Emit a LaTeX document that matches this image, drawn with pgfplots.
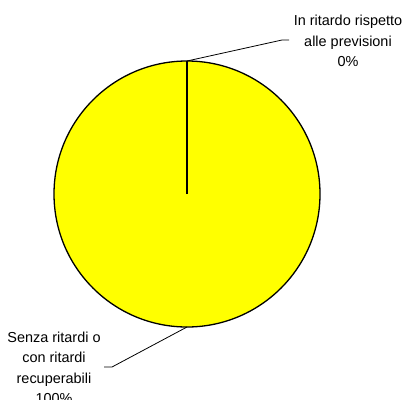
\documentclass[border=0pt]{standalone}
\usepackage{pgfplots}
\pgfplotsset{compat=1.18}
\usepackage{fontspec}
\setmainfont{Liberation Sans}
\definecolor{pieyellow}{RGB}{255,255,0}
\begin{document}
\begin{tikzpicture}
  \begin{axis}[
      scale only axis,
      width=406bp, height=400bp,
      xmin=0, xmax=406, ymin=0, ymax=400,
      y dir=reverse,
      hide axis,
      clip=false,
    ]
    % 100% slice: whole disc
    \draw[fill=pieyellow, line width=1.3bp] (axis cs:187,194) circle [radius=133bp];
    % 0% slice: single edge at 90 degrees
    \addplot[black, line width=2bp, no marks] coordinates {(187,194) (187,61)};
    % leader lines
    \draw[line width=0.8bp] (axis cs:187,61) -- (axis cs:282,40) -- (axis cs:289,40);
    \draw[line width=0.8bp] (axis cs:187,327) -- (axis cs:112,367) -- (axis cs:104,367);
    \node[align=center, font=\fontsize{14.5}{20.5}\selectfont] at (axis cs:348,41)
      {In ritardo rispetto\\alle previsioni\\0\%};
    \node[align=center, font=\fontsize{14.5}{20.5}\selectfont] at (axis cs:54,368)
      {Senza ritardi o\\con ritardi\\recuperabili\\100\%};
  \end{axis}
  \pgfresetboundingbox
  \useasboundingbox (current axis.south west) rectangle (current axis.north east);
\end{tikzpicture}
\end{document}
